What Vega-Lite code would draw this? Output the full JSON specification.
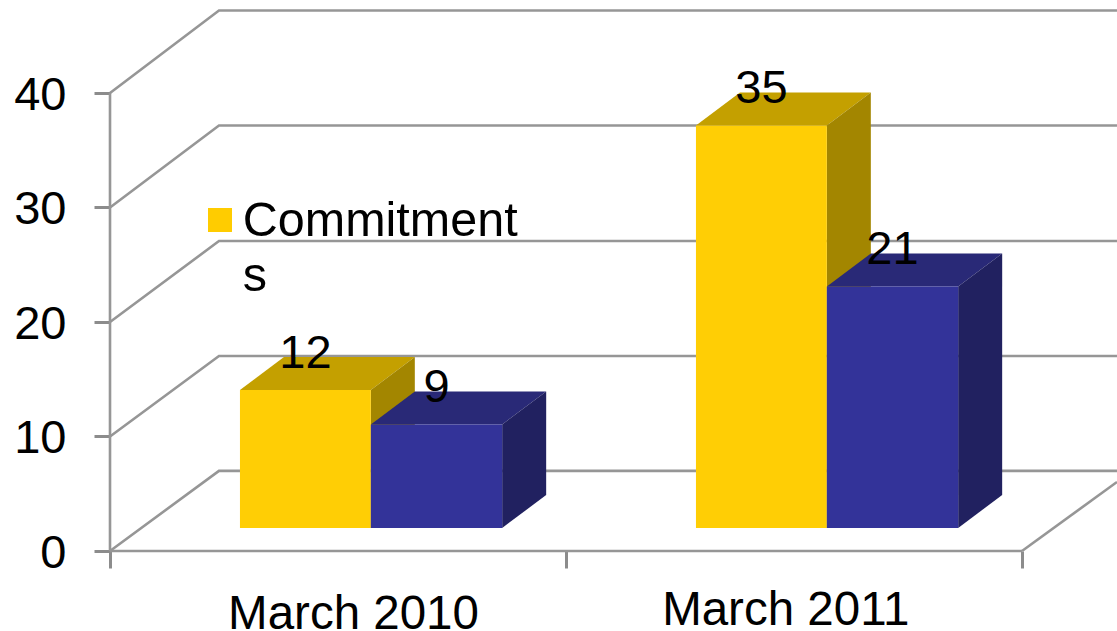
{
"$schema":"https://vega.github.io/schema/vega-lite/v6.json",
"width":1117,"height":631,"padding":0,"autosize":{"type":"none"},
"background":"white",
"config":{"view":{"stroke":null},"text":{"font":"Liberation Sans"}},
"datasets":{
"bars":[
{"period":"March 2010","series":"Commitments","value":12,"base":0,"x0":0.285,"x1":0.572,"mid":0.4285},
{"period":"March 2010","series":"Other","value":9,"base":0,"x0":0.572,"x1":0.86,"mid":0.716},
{"period":"March 2011","series":"Commitments","value":35,"base":0,"x0":1.285,"x1":1.572,"mid":1.4285},
{"period":"March 2011","series":"Other","value":21,"base":0,"x0":1.572,"x1":1.86,"mid":1.716}
],
"faces":[
{"id":"y10t","face":"yellow top","x":0.285,"top":12,"bottom":12},
{"id":"y10t","face":"yellow top","x":0.3815,"top":14.87,"bottom":12},
{"id":"y10t","face":"yellow top","x":0.572,"top":14.87,"bottom":12},
{"id":"y10t","face":"yellow top","x":0.6685,"top":14.87,"bottom":14.87},
{"id":"y10s","face":"yellow side","x":0.572,"top":12,"bottom":0},
{"id":"y10s","face":"yellow side","x":0.6685,"top":14.87,"bottom":2.87},
{"id":"y11t","face":"yellow top","x":1.285,"top":35,"bottom":35},
{"id":"y11t","face":"yellow top","x":1.3815,"top":37.87,"bottom":35},
{"id":"y11t","face":"yellow top","x":1.572,"top":37.87,"bottom":35},
{"id":"y11t","face":"yellow top","x":1.6685,"top":37.87,"bottom":37.87},
{"id":"y11s","face":"yellow side","x":1.572,"top":35,"bottom":0},
{"id":"y11s","face":"yellow side","x":1.6685,"top":37.87,"bottom":2.87},
{"id":"b10t","face":"blue top","x":0.572,"top":9,"bottom":9},
{"id":"b10t","face":"blue top","x":0.6685,"top":11.87,"bottom":9},
{"id":"b10t","face":"blue top","x":0.86,"top":11.87,"bottom":9},
{"id":"b10t","face":"blue top","x":0.9565,"top":11.87,"bottom":11.87},
{"id":"b10s","face":"blue side","x":0.86,"top":9,"bottom":0},
{"id":"b10s","face":"blue side","x":0.9565,"top":11.87,"bottom":2.87},
{"id":"b11t","face":"blue top","x":1.572,"top":21,"bottom":21},
{"id":"b11t","face":"blue top","x":1.6685,"top":23.87,"bottom":21},
{"id":"b11t","face":"blue top","x":1.86,"top":23.87,"bottom":21},
{"id":"b11t","face":"blue top","x":1.9565,"top":23.87,"bottom":23.87},
{"id":"b11s","face":"blue side","x":1.86,"top":21,"bottom":0},
{"id":"b11s","face":"blue side","x":1.9565,"top":23.87,"bottom":2.87}
],
"wall":[
{"line":"g0","i":1,"x":0,"y":0},{"line":"g0","i":2,"x":0.239,"y":7},{"line":"g0","i":3,"x":2.2083,"y":7},
{"line":"g10","i":1,"x":0,"y":10},{"line":"g10","i":2,"x":0.239,"y":17.03},{"line":"g10","i":3,"x":2.2083,"y":17.03},
{"line":"g20","i":1,"x":0,"y":20},{"line":"g20","i":2,"x":0.239,"y":27.07},{"line":"g20","i":3,"x":2.2083,"y":27.07},
{"line":"g30","i":1,"x":0,"y":30},{"line":"g30","i":2,"x":0.239,"y":37.16},{"line":"g30","i":3,"x":2.2083,"y":37.16},
{"line":"g40","i":1,"x":0,"y":40},{"line":"g40","i":2,"x":0.239,"y":47.2},{"line":"g40","i":3,"x":2.2083,"y":47.2},
{"line":"side","i":1,"x":2,"y":0},{"line":"side","i":2,"x":2.2083,"y":6.03},
{"line":"yaxis","i":1,"x":0,"y":0},{"line":"yaxis","i":2,"x":0,"y":40},
{"line":"xaxis","i":1,"x":0,"y":0},{"line":"xaxis","i":2,"x":2,"y":0}
],
"cats":[
{"label":"March 2010","x":0.534,"y":-6.81},
{"label":"March 2011","x":1.482,"y":-6.46}
],
"legend":[{"label":"Commitment\ns","series":"Commitments","xs":0.2412,"ys":28.91,"xt":0.2912,"yt":27.52}]
},
"resolve":{"scale":{"x":"independent","y":"independent"}},
"layer":[
{"layer":[
{"data":{"name":"wall"},
"mark":{"type":"line","stroke":"#969696","strokeWidth":2.6,"clip":true},
"encoding":{
"x":{"field":"x","type":"quantitative","scale":{"domain":[-0.24123,2.20833],"nice":false,"zero":false},
"axis":{"orient":"bottom","offset":-80,"values":[0,1,2],"labels":false,"domain":false,"grid":false,"title":null,"tickSize":17,"tickColor":"#8c8c8c","tickWidth":3}},
"y":{"field":"y","type":"quantitative","scale":{"domain":[-6.987,48.122],"nice":false,"zero":false},
"axis":{"orient":"left","offset":-110,"values":[0,10,20,30,40],"format":"d","domain":false,"grid":false,"title":null,"tickSize":16,"tickColor":"#8c8c8c","tickWidth":3,"labelPadding":28,"labelOffset":2.5,"labelFont":"Liberation Sans","labelFontSize":47,"labelColor":"#000000"}},
"detail":{"field":"line"},
"order":{"field":"i"}}},
{"data":{"name":"cats"},
"mark":{"type":"text","fontSize":47.5,"font":"Liberation Sans","color":"#000000","align":"center","baseline":"alphabetic"},
"encoding":{
"x":{"field":"x","type":"quantitative"},
"y":{"field":"y","type":"quantitative"},
"text":{"field":"label"}}},
{"data":{"name":"legend"},
"mark":{"type":"square","size":576,"opacity":1,"filled":true,"color":"#FFCC00"},
"encoding":{
"x":{"field":"xs","type":"quantitative"},
"y":{"field":"ys","type":"quantitative"}}},
{"data":{"name":"legend"},
"mark":{"type":"text","fontSize":48.5,"font":"Liberation Sans","color":"#000000","align":"left","baseline":"alphabetic","lineBreak":"\n","lineHeight":55},
"encoding":{
"x":{"field":"xt","type":"quantitative"},
"y":{"field":"yt","type":"quantitative"},
"text":{"field":"label"}}}
]},
{"layer":[
{"data":{"name":"faces"},
"mark":{"type":"area","opacity":1,"line":false},
"encoding":{
"x":{"field":"x","type":"quantitative","scale":{"domain":[-0.24123,2.20833],"nice":false,"zero":false},"axis":null},
"y":{"field":"top","type":"quantitative","scale":{"domain":[-8.957,45.913],"nice":false,"zero":false},"axis":null},
"y2":{"field":"bottom"},
"detail":{"field":"id"},
"color":{"field":"face","type":"nominal","legend":null,"scale":{"domain":["yellow top","yellow side","blue top","blue side"],"range":["#C4A000","#A38600","#292977","#212160"]}}}},
{"data":{"name":"bars"},
"mark":{"type":"rect","opacity":1},
"encoding":{
"x":{"field":"x0","type":"quantitative","axis":null},
"x2":{"field":"x1"},
"y":{"field":"value","type":"quantitative","axis":null},
"y2":{"field":"base"},
"fill":{"field":"series","type":"nominal","legend":null,"scale":{"domain":["Commitments","Other"],"range":["#FFCE05","#333399"]}}}},
{"data":{"name":"bars"},
"mark":{"type":"text","fontSize":47,"font":"Liberation Sans","color":"#000000","align":"center","baseline":"middle","dy":-36},
"encoding":{
"x":{"field":"mid","type":"quantitative"},
"y":{"field":"value","type":"quantitative"},
"text":{"field":"value","type":"quantitative"}}}
]}
]
}
